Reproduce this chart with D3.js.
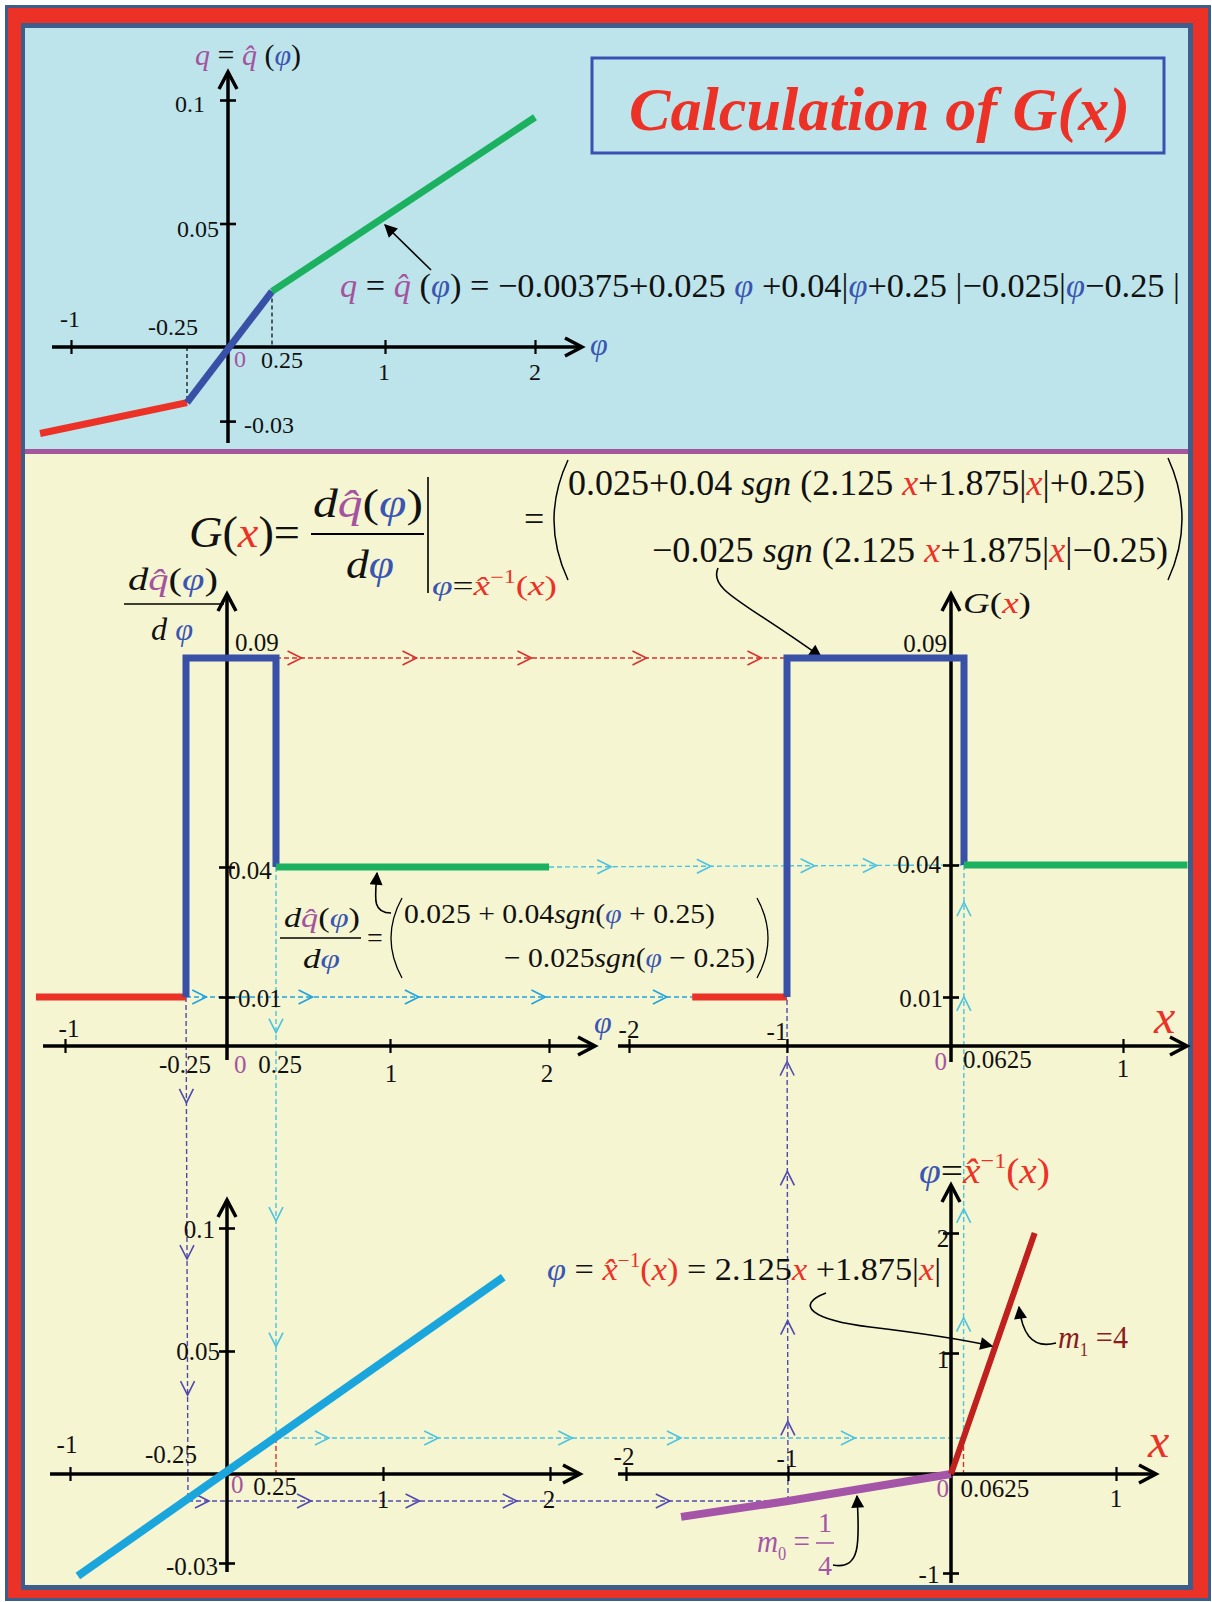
<!DOCTYPE html>
<html>
<head>
<meta charset="utf-8">
<script src="https://cdn.jsdelivr.net/npm/d3@7"></script>
<style>
  body { margin: 0; background: #fff; }
  svg { display: block; }
  text { font-family: "Liberation Serif", "Times New Roman", serif; }
</style>
</head>
<body>
<svg id="c" width="1212" height="1602"></svg>
<script>
// ---------- data ----------
// q = q̂(φ): breakpoints of the piecewise-linear quantizer curve
const qPhi = [-1.2, -0.25, 0.25, 2];
const qVal = [-0.035, -0.0225, 0.0225, 0.093];
// dq̂/dφ: segment boundaries (φ) and the constant value on each segment
const dPhi = [-1.18, -0.25, 0.25, 2];
const dVal = [0.01, 0.09, 0.04];
// G(x): segment boundaries (x) and the constant value on each segment
const gXb = [-1.6, -1, 0.0625, 1.38];
const gVal = [0.01, 0.09, 0.04];
// straight transfer line in the lower-left panel
const mPhi = [-0.95, 1.72];
const mVal = [-0.0344, 0.080];
// φ = x̂⁻¹(x) = 2.125x + 1.875|x|
const invXneg = [-1.66, -1, 0];
const invPhiNeg = [-0.415, -0.25, 0];
const invXpos = [0, 0.0625, 0.5];
const invPhiPos = [0, 0.25, 2];
// tick values
const phiTicks = [-1, 1, 2];
const qTicks = [0.1, 0.05, -0.03];
const dTicks = [0.01, 0.04];
const gXTicks = [-2, -1, 1];
const rPhiTicks = [2, 1, -1];

// ---------- colours ----------
const MAG = "#a4549f", BLU = "#3a56b2", RED = "#ec3127", BLK = "#111";
const C_BLUE = "#3850a6", C_RED = "#ec3127", C_GREEN = "#1bb160";
const C_CYAN = "#1aa5dc", C_PURP = "#a455a8", C_DRED = "#c0201e";
const G_RED = "#d8322f", G_CYAN = "#4cc3df", G_CYAN2 = "#1fa3e0", G_PURP = "#5249b0";

const svg = d3.select("#c");

// ---------- frame & panels ----------
svg.append("rect").attr("x", 5).attr("y", 5).attr("width", 1206).attr("height", 1596).attr("fill", "#3d5d8b");
svg.append("rect").attr("x", 8).attr("y", 8).attr("width", 1200).attr("height", 1590).attr("fill", "#ec3127");
svg.append("rect").attr("x", 21).attr("y", 23).attr("width", 1172).attr("height", 1567).attr("fill", "#3d5d8b");
svg.append("rect").attr("x", 25).attr("y", 28).attr("width", 1163).attr("height", 421).attr("fill", "#bde4ea");
svg.append("rect").attr("x", 25).attr("y", 449).attr("width", 1163).attr("height", 5).attr("fill", "#a4569f");
svg.append("rect").attr("x", 25).attr("y", 454).attr("width", 1163).attr("height", 1131).attr("fill", "#f5f5d2");

// ---------- scales ----------
const tX = d3.scaleLinear().domain([-1, -0.25, 0, 0.25, 1, 2]).range([71, 187, 228, 272, 385, 535]);
const tY = d3.scaleLinear().domain([0, 0.1]).range([347, 100]);
const mlX = d3.scaleLinear().domain([-1, -0.25, 0, 0.25, 1, 2]).range([65, 186, 227, 276, 390, 549]);
const mlY = d3.scaleLinear().domain([0, 0.01, 0.04, 0.09]).range([1046, 997, 867, 658]);
const gX = d3.scaleLinear().domain([-2, -1, 0, 0.0625, 1]).range([629, 787, 951, 964, 1123]);
const gY = d3.scaleLinear().domain([0, 0.01, 0.04, 0.09]).range([1046, 997, 865, 658]);
const bX = d3.scaleLinear().domain([-1, -0.25, 0, 0.25, 1, 2]).range([70, 188, 227, 276, 383, 550]);
const bY = d3.scaleLinear().domain([-0.03, 0, 0.1]).range([1563, 1474, 1228]);
const rX = d3.scaleLinear().domain([-2, -1, 0, 0.0625, 1]).range([626, 788, 951, 963.5, 1116]);
const rY = d3.scaleLinear().domain([-1, -0.25, 0, 0.25, 1, 2]).range([1573, 1501, 1474, 1438, 1353, 1233]);

// ---------- helpers ----------
const defs = svg.append("defs");
defs.append("marker").attr("id", "ah").attr("viewBox", "0 0 10 10").attr("refX", 9).attr("refY", 5)
  .attr("markerUnits", "userSpaceOnUse").attr("markerWidth", 16).attr("markerHeight", 13)
  .attr("orient", "auto").append("path").attr("d", "M0,0L10,5L0,10z").attr("fill", "#000");

function rich(x, y, size, parts, o = {}) {
  const t = svg.append("text").attr("x", x).attr("y", y).attr("font-size", size)
    .attr("fill", o.fill || BLK).attr("text-anchor", o.anchor || "start");
  if (o.bold) t.attr("font-weight", "bold");
  if (o.italic) t.attr("font-style", "italic");
  parts.forEach(p => {
    if (typeof p === "string") { t.append("tspan").text(p); return; }
    const s = t.append("tspan").text(p.t);
    if (p.c) s.attr("fill", p.c);
    if (p.i) s.attr("font-style", "italic");
    if (p.dy) s.attr("dy", p.dy);
    if (p.s) s.attr("font-size", p.s);
  });
  if (o.len) t.attr("textLength", o.len).attr("lengthAdjust", "spacingAndGlyphs");
  return t;
}
function label(x, y, txt, anchor = "middle", size = 24, fill = BLK, italic = false) {
  const t = svg.append("text").attr("x", x).attr("y", y).attr("font-size", size)
    .attr("fill", fill).attr("text-anchor", anchor).text(txt);
  if (italic) t.attr("font-style", "italic");
  return t;
}
function chev(x, y, angle, color, len = 14, half = 7, w = 1.6) {
  svg.append("path").attr("d", `M${-len},${-half}L0,0L${-len},${half}`)
    .attr("transform", `translate(${x},${y}) rotate(${angle})`)
    .attr("fill", "none").attr("stroke", color).attr("stroke-width", w);
}
// x-axis (with arrow) and y-axis (with arrow); ticks come from d3 axes
function axes(o) {
  svg.append("line").attr("x1", o.xFrom).attr("x2", o.xTo).attr("y1", o.y0).attr("y2", o.y0)
    .attr("stroke", "#000").attr("stroke-width", 3.5);
  chev(o.xTo, o.y0, 0, "#000", 17, 9, 3.5);
  svg.append("line").attr("x1", o.x0).attr("x2", o.x0).attr("y1", o.yFrom).attr("y2", o.yTo)
    .attr("stroke", "#000").attr("stroke-width", 3.5);
  chev(o.x0, o.yTo, -90, "#000", 17, 9, 3.5);
  if (o.xTicks) {
    const g = svg.append("g").attr("transform", `translate(0,${o.y0})`)
      .call(d3.axisBottom(o.xs).tickValues(o.xTicks).tickSize(0).tickFormat(""));
    g.select(".domain").remove();
    g.selectAll(".tick line").attr("y1", -7).attr("y2", 7).attr("stroke", "#000").attr("stroke-width", 2.2);
  }
  if (o.yTicks) {
    const g = svg.append("g").attr("transform", `translate(${o.x0},0)`)
      .call(d3.axisLeft(o.ys).tickValues(o.yTicks).tickSize(0).tickFormat(""));
    g.select(".domain").remove();
    g.selectAll(".tick line").attr("x1", -8).attr("x2", 8).attr("stroke", "#000").attr("stroke-width", 2.6);
  }
}
function guide(x1, y1, x2, y2, color, at, w = 1.4) {
  svg.append("line").attr("x1", x1).attr("y1", y1).attr("x2", x2).attr("y2", y2)
    .attr("stroke", color).attr("stroke-width", w).attr("stroke-dasharray", "5,3");
  const ang = Math.atan2(y2 - y1, x2 - x1) * 180 / Math.PI;
  (at || []).forEach(f => chev(x1 + (x2 - x1) * f, y1 + (y2 - y1) * f, ang, color));
}
const line = (xs, ys) => d3.line().x(d => xs(d[0])).y(d => ys(d[1]));
function seg(pts, xs, ys, color, w) {
  svg.append("path").attr("d", line(xs, ys)(pts)).attr("fill", "none")
    .attr("stroke", color).attr("stroke-width", w).attr("stroke-linejoin", "miter");
}

// =================== top panel: q = q̂(φ) ===================
axes({ x0: tX(0), y0: tY(0), xFrom: 52, xTo: 582, yFrom: 443, yTo: 72,
       xs: tX, ys: tY, xTicks: phiTicks, yTicks: qTicks });
// dashed drop lines at φ = ±0.25
svg.append("line").attr("x1", tX(qPhi[1])).attr("x2", tX(qPhi[1])).attr("y1", tY(0)).attr("y2", tY(qVal[1]))
  .attr("stroke", "#000").attr("stroke-width", 1.2).attr("stroke-dasharray", "4,3");
svg.append("line").attr("x1", tX(qPhi[2])).attr("x2", tX(qPhi[2])).attr("y1", tY(qVal[2])).attr("y2", tY(0))
  .attr("stroke", "#000").attr("stroke-width", 1.2).attr("stroke-dasharray", "4,3");
const qCols = [C_RED, C_BLUE, C_GREEN];
for (let i = 0; i < 3; i++) seg([[qPhi[i], qVal[i]], [qPhi[i + 1], qVal[i + 1]]], tX, tY, qCols[i], 7);

label(tX(-1) - 1, tY(0) - 20, "-1");
label(tX(-0.25) - 14, tY(0) - 12, "-0.25");
label(tX(0) + 6, tY(0) + 20, "0", "start", 24, MAG);
label(tX(0.25) + 10, tY(0) + 21, "0.25");
label(tX(1) - 1, tY(0) + 33, "1");
label(tX(2), tY(0) + 33, "2");
label(tX(0) - 23, tY(0.1) + 12, "0.1", "end");
label(tX(0) - 9, tY(0.05) + 13, "0.05", "end");
label(tX(0) + 16, tY(-0.03) + 12, "-0.03", "start");
label(590, 355, "φ", "start", 32, BLU, true);
rich(195, 65, 30, [{ t: "q", c: MAG, i: 1 }, " = ", { t: "q\u0302", c: MAG, i: 1 }, " (", { t: "φ", c: BLU, i: 1 }, ")"], { len: 106 });

rich(340, 297, 34, [{ t: "q", c: MAG, i: 1 }, " = ", { t: "q\u0302", c: MAG, i: 1 }, " (", { t: "φ", c: BLU, i: 1 },
  ") = −0.00375+0.025 ", { t: "φ", c: BLU, i: 1 }, " +0.04|", { t: "φ", c: BLU, i: 1 }, "+0.25 |−0.025|",
  { t: "φ", c: BLU, i: 1 }, "−0.25 |"], { len: 840 });
svg.append("line").attr("x1", 431).attr("y1", 270).attr("x2", 385).attr("y2", 225)
  .attr("stroke", "#000").attr("stroke-width", 1.6).attr("marker-end", "url(#ah)");

// title box
svg.append("rect").attr("x", 592).attr("y", 58).attr("width", 572).attr("height", 95)
  .attr("fill", "none").attr("stroke", "#3a50b0").attr("stroke-width", 3);
rich(629, 130, 62, ["Calculation of G(x)"], { fill: RED, bold: 1, italic: 1, len: 501 });

// =================== guide lines (dashed, with chevrons) ===================
guide(mlX(dPhi[2]), mlY(dVal[1]), gX(gXb[1]), gY(gVal[1]), G_RED, [0.05, 0.275, 0.5, 0.725, 0.95]);
guide(mlX(dPhi[3]), mlY(dVal[2]), gX(gXb[2]), gY(gVal[2]), G_CYAN, [0.15, 0.39, 0.64, 0.79]);
guide(mlX(dPhi[1]), mlY(dVal[0]), gX(gXb[0]), gY(gVal[0]), G_CYAN2, [0.04, 0.25, 0.46, 0.71, 0.95]);
guide(mlX(dPhi[1]), mlY(dVal[0]), bX(-0.25), rY(-0.25), G_PURP, [0.21, 0.52, 0.79]);
guide(mlX(dPhi[2]), mlY(dVal[2]), bX(0.25), rY(0.25), G_CYAN, [0.29, 0.62, 0.84]);
guide(bX(-0.25), rY(-0.25), rX(-1), rY(-0.25), G_PURP, [0.035, 0.205, 0.386, 0.548, 0.803]);
guide(bX(0.25), rY(0.25), rX(0.0625), rY(0.25), G_CYAN, [0.077, 0.236, 0.431, 0.589, 0.842]);
guide(rX(-1), rY(-0.25), gX(gXb[1]), gY(gVal[0]), G_PURP, [0.158, 0.358, 0.654, 0.872]);
guide(rX(0.0625), rY(0.25), gX(gXb[2]), gY(gVal[2]), G_CYAN, [0.21, 0.40, 0.77, 0.935]);
guide(bX(0.25), rY(0.25), bX(0.25), bY(0), G_RED, []);
guide(rX(0.0625), rY(0.25), rX(0.0625), rY(0), G_RED, []);

// =================== middle-left: dq̂/dφ ===================
axes({ x0: mlX(0), y0: mlY(0), xFrom: 43, xTo: 595, yFrom: 1060, yTo: 594,
       xs: mlX, ys: mlY, xTicks: phiTicks, yTicks: dTicks });
seg([[dPhi[0], dVal[0]], [dPhi[1], dVal[0]]], mlX, mlY, C_RED, 7);
seg([[dPhi[1], dVal[0]], [dPhi[1], dVal[1]], [dPhi[2], dVal[1]], [dPhi[2], dVal[2]]], mlX, mlY, C_BLUE, 7);
seg([[dPhi[2], dVal[2]], [dPhi[3], dVal[2]]], mlX, mlY, C_GREEN, 7);

label(mlX(0) + 8, mlY(0.09) - 7, "0.09", "start", 25);
label(mlX(0) + 1, mlY(0.04) + 12, "0.04", "start", 25);
label(mlX(0) + 11, mlY(0.01) + 10, "0.01", "start", 25);
label(mlX(-1) + 4, mlY(0) - 9, "-1", "middle", 25);
label(mlX(-0.25) - 1, mlY(0) + 27, "-0.25", "middle", 25);
label(mlX(0) + 7, mlY(0) + 27, "0", "start", 25, MAG);
label(mlX(0.25) + 4, mlY(0) + 27, "0.25", "middle", 25);
label(mlX(1) + 1, mlY(0) + 36, "1", "middle", 25);
label(mlX(2) - 2, mlY(0) + 36, "2", "middle", 25);
label(594, 1033, "φ", "start", 32, BLU, true);
// y-axis title
rich(128, 590, 32, [{ t: "d", i: 1 }, { t: "q\u0302", c: MAG, i: 1 }, "(", { t: "φ", c: BLU, i: 1 }, ")"], { len: 90 });
svg.append("line").attr("x1", 124).attr("x2", 224).attr("y1", 604).attr("y2", 604).attr("stroke", "#000").attr("stroke-width", 1.6);
rich(151, 640, 32, [{ t: "d", i: 1 }, " ", { t: "φ", c: BLU, i: 1 }], { len: 42 });

// derivative formula inside the panel
rich(284, 927, 28, [{ t: "d", i: 1 }, { t: "q\u0302", c: MAG, i: 1 }, "(", { t: "φ", c: BLU, i: 1 }, ")"], { len: 76 });
svg.append("line").attr("x1", 280).attr("x2", 361).attr("y1", 938).attr("y2", 938).attr("stroke", "#000").attr("stroke-width", 1.4);
rich(303, 968, 28, [{ t: "d", i: 1 }, { t: "φ", c: BLU, i: 1 }], { len: 37 });
label(367, 947, "=", "start", 28);
svg.append("path").attr("d", "M402,898 Q380,938 402,978").attr("fill", "none").attr("stroke", "#000").attr("stroke-width", 1.3);
svg.append("path").attr("d", "M757,898 Q779,938 757,978").attr("fill", "none").attr("stroke", "#000").attr("stroke-width", 1.3);
rich(404, 923, 28, ["0.025 + 0.04", { t: "sgn", i: 1 }, "(", { t: "φ", c: BLU, i: 1 }, " + 0.25)"], { len: 311 });
rich(504, 967, 28, ["− 0.025", { t: "sgn", i: 1 }, "(", { t: "φ", c: BLU, i: 1 }, " − 0.25)"], { len: 251 });
svg.append("path").attr("d", "M391,913 C372,913 375,898 377,873").attr("fill", "none")
  .attr("stroke", "#000").attr("stroke-width", 1.6).attr("marker-end", "url(#ah)");

// main G(x) formula
rich(189, 547, 44, [{ t: "G", i: 1 }, "(", { t: "x", c: RED, i: 1 }, ")="], { len: 111 });
rich(313, 517, 40, [{ t: "d", i: 1 }, { t: "q\u0302", c: MAG, i: 1 }, "(", { t: "φ", c: BLU, i: 1 }, ")"], { len: 110 });
svg.append("line").attr("x1", 311).attr("x2", 424).attr("y1", 534).attr("y2", 534).attr("stroke", "#000").attr("stroke-width", 2);
rich(346, 578, 40, [{ t: "d", i: 1 }, { t: "φ", c: BLU, i: 1 }], { len: 48 });
svg.append("line").attr("x1", 428).attr("x2", 428).attr("y1", 477).attr("y2", 593).attr("stroke", "#000").attr("stroke-width", 1.6);
rich(432, 595, 28, [{ t: "φ", c: BLU, i: 1 }, "=", { t: "x\u0302", c: RED, i: 1 }, { t: "−1", c: RED, s: 18, dy: -12 },
  { t: "(", c: RED, dy: 12 }, { t: "x", c: RED, i: 1 }, { t: ")", c: RED }], { len: 125 });
label(524, 531, "=", "start", 36);
svg.append("path").attr("d", "M568,460 Q540,520 568,580").attr("fill", "none").attr("stroke", "#000").attr("stroke-width", 1.5);
svg.append("path").attr("d", "M1168,458 Q1196,519 1168,580").attr("fill", "none").attr("stroke", "#000").attr("stroke-width", 1.5);
rich(568, 495, 36, ["0.025+0.04 ", { t: "sgn", i: 1 }, " (2.125 ", { t: "x", c: RED, i: 1 }, "+1.875|",
  { t: "x", c: RED, i: 1 }, "|+0.25)"], { len: 577 });
rich(652, 562, 36, ["−0.025 ", { t: "sgn", i: 1 }, " (2.125 ", { t: "x", c: RED, i: 1 }, "+1.875|",
  { t: "x", c: RED, i: 1 }, "|−0.25)"], { len: 516 });
svg.append("path").attr("d", "M718,568 C708,590 745,602 821,657").attr("fill", "none")
  .attr("stroke", "#000").attr("stroke-width", 1.6).attr("marker-end", "url(#ah)");

// =================== middle-right: G(x) ===================
axes({ x0: gX(0), y0: gY(0), xFrom: 618, xTo: 1187, yFrom: 1062, yTo: 594,
       xs: gX, ys: gY, xTicks: gXTicks, yTicks: dTicks });
seg([[gXb[0], gVal[0]], [gXb[1], gVal[0]]], gX, gY, C_RED, 7);
seg([[gXb[1], gVal[0]], [gXb[1], gVal[1]], [gXb[2], gVal[1]], [gXb[2], gVal[2]]], gX, gY, C_BLUE, 7);
seg([[gXb[2], gVal[2]], [gXb[3], gVal[2]]], gX, gY, C_GREEN, 7);

label(gX(0) - 4, gY(0.09) - 6, "0.09", "end", 25);
label(gX(0) - 10, gY(0.04) + 8, "0.04", "end", 25);
label(gX(0) - 8, gY(0.01) + 10, "0.01", "end", 25);
label(gX(-2), gY(0) - 8, "-2", "middle", 25);
label(gX(-1) - 10, gY(0) - 6, "-1", "middle", 25);
label(gX(0) - 4, gY(0) + 24, "0", "end", 25, MAG);
label(gX(0.0625) - 1, gY(0) + 22, "0.0625", "start", 25);
label(gX(1), gY(0) + 31, "1", "middle", 25);
label(1154, 1033, "x", "start", 48, RED, true);
rich(963, 613, 30, [{ t: "G", i: 1 }, "(", { t: "x", c: RED, i: 1 }, ")"], { len: 68 });

// =================== bottom-left: transfer line ===================
axes({ x0: bX(0), y0: bY(0), xFrom: 50, xTo: 580, yFrom: 1572, yTo: 1200,
       xs: bX, ys: bY, xTicks: phiTicks, yTicks: qTicks });
seg([[mPhi[0], mVal[0]], [mPhi[1], mVal[1]]], bX, bY, C_CYAN, 8);
label(bX(0) - 12, bY(0.1) + 10, "0.1", "end", 25);
label(bX(0) - 7, bY(0.05) + 9, "0.05", "end", 25);
label(bX(0) - 9, bY(-0.03) + 12, "-0.03", "end", 25);
label(bX(-1) - 3, bY(0) - 21, "-1", "middle", 25);
label(bX(-0.25) - 17, bY(0) - 11, "-0.25", "middle", 25);
label(bX(0) + 4, bY(0) + 19, "0", "start", 25, MAG);
label(bX(0.25) - 1, bY(0) + 21, "0.25", "middle", 25);
label(bX(1), bY(0) + 34, "1", "middle", 25);
label(bX(2) - 1, bY(0) + 34, "2", "middle", 25);

// =================== bottom-right: φ = x̂⁻¹(x) ===================
axes({ x0: rX(0), y0: rY(0), xFrom: 618, xTo: 1156, yFrom: 1583, yTo: 1185,
       xs: rX, ys: rY, xTicks: gXTicks, yTicks: rPhiTicks });
seg(invXneg.map((v, i) => [v, invPhiNeg[i]]), rX, rY, C_PURP, 8);
seg(invXpos.map((v, i) => [v, invPhiPos[i]]), rX, rY, C_DRED, 6);

label(rX(0) - 8, rY(2) + 14, "2", "middle", 25);
label(rX(0) - 8, rY(1) + 15, "1", "middle", 25);
label(rX(0) - 22, rY(-1) + 10, "-1", "middle", 25);
label(rX(-2) - 2, rY(0) - 9, "-2", "middle", 25);
label(rX(-1) - 1, rY(0) - 7, "-1", "middle", 25);
label(rX(0) - 2, rY(0) + 23, "0", "end", 25, MAG);
label(rX(0.0625) - 3, rY(0) + 23, "0.0625", "start", 25);
label(rX(1), rY(0) + 33, "1", "middle", 25);
label(1148, 1457, "x", "start", 48, RED, true);
rich(919, 1183, 36, [{ t: "φ", c: BLU, i: 1 }, "=", { t: "x\u0302", c: RED, i: 1 }, { t: "−1", c: RED, s: 22, dy: -15 },
  { t: "(", c: RED, dy: 15 }, { t: "x", c: RED, i: 1 }, { t: ")", c: RED }], { len: 131 });

rich(547, 1280, 32, [{ t: "φ", c: BLU, i: 1 }, " = ", { t: "x\u0302", c: RED, i: 1 }, { t: "−1", c: RED, s: 20, dy: -13 },
  { t: "(", c: RED, dy: 13 }, { t: "x", c: RED, i: 1 }, { t: ")", c: RED }, " = 2.125", { t: "x", c: RED, i: 1 },
  " +1.875|", { t: "x", c: RED, i: 1 }, "|"], { len: 394 });
svg.append("path").attr("d", "M826,1293 C794,1305 812,1320 870,1327 C920,1333 960,1339 992,1346").attr("fill", "none")
  .attr("stroke", "#000").attr("stroke-width", 1.6).attr("marker-end", "url(#ah)");

// slope annotations
rich(1058, 1348, 32, [{ t: "m", i: 1 }, { t: "1", s: 18, dy: 8 }, { t: " =4", dy: -8 }], { fill: "#8c1c1c", len: 70 });
svg.append("path").attr("d", "M1056,1343 C1030,1350 1022,1330 1019,1307").attr("fill", "none")
  .attr("stroke", "#000").attr("stroke-width", 1.6).attr("marker-end", "url(#ah)");
rich(757, 1552, 32, [{ t: "m", i: 1 }, { t: "0", s: 18, dy: 8 }, { t: " =", dy: -8 }], { fill: C_PURP, len: 53 });
label(825, 1532, "1", "middle", 28, C_PURP);
svg.append("line").attr("x1", 816).attr("x2", 834).attr("y1", 1543).attr("y2", 1543).attr("stroke", C_PURP).attr("stroke-width", 1.6);
label(825, 1575, "4", "middle", 28, C_PURP);
svg.append("path").attr("d", "M833,1565 C860,1570 860,1545 857,1496").attr("fill", "none")
  .attr("stroke", "#000").attr("stroke-width", 1.6).attr("marker-end", "url(#ah)");
</script>
</body>
</html>
